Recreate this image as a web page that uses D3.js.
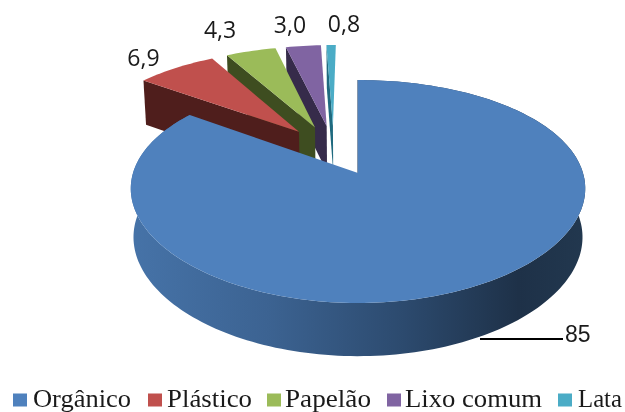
<!DOCTYPE html>
<html>
<head>
<meta charset="utf-8">
<script src="https://cdn.jsdelivr.net/npm/d3@7"></script>
<style>
html, body { margin: 0; padding: 0; background: #fff; overflow: hidden; }
svg { filter: blur(0.4px); }
</style>
</head>
<body>
<div id="chart"></div>
<script>
const categories = ["Orgânico", "Plástico", "Papelão", "Lixo comum", "Lata"];
const values = [85, 6.9, 4.3, 3.0, 0.8];
const valueLabels = ["85", "6,9", "4,3", "3,0", "0,8"];
const colors = ["#4F81BD", "#C0504D", "#9BBB59", "#8064A2", "#4BACC6"];
const wallColors = ["#24384F", "#4F1E1C", "#3E4D20", "#362B4A", "#1F6A7F"];

const width = 625, height = 412;
const cx = 358, cy = 173;       // apex of the blue slice on screen
const R = 225, Rk = 108.4;      // radius across and along the tilted plane
const persp = 0.166, perspX = 0.14;   // far side is drawn smaller
const explode = 0.248;

const svg = d3.select("#chart").append("svg")
    .attr("width", width).attr("height", height);

const grad = svg.append("defs").append("linearGradient")
    .attr("id", "wall").attr("gradientUnits", "userSpaceOnUse")
    .attr("x1", 130).attr("x2", 587).attr("y1", 0).attr("y2", 0);
[[0, "#4673A8"], [0.3, "#3C6392"], [0.6, "#2C4A6E"], [0.85, "#1E3148"], [1, "#22384F"]]
    .forEach(s => grad.append("stop").attr("offset", s[0]).attr("stop-color", s[1]));

// plane coordinates -> screen
function project(X, Z) {
    const s = 1 / (1 + persp * Z);
    return { x: cx + R * X / (1 + perspX * Z), y: cy - Rk * Z * s, s: s };
}
function wallHeight(s) { return 22 + 26 * s; }
function topPt(p) { return [p.x, p.y]; }
function bottomPt(p) { return [p.x + (cx - p.x) * 0.012, p.y + wallHeight(p.s)]; }

const slices = d3.pie().sort(null).startAngle(0).endAngle(2 * Math.PI)(values);
const lineGen = d3.line().curve(d3.curveLinear);

const blueMid = (slices[0].startAngle + slices[0].endAngle) / 2;
slices.forEach(d => {
    const mid = (d.startAngle + d.endAngle) / 2;
    // every slice moves out from a common centre, blue stays at cx,cy
    d.ox = explode * (Math.sin(mid) - Math.sin(blueMid));
    d.oz = explode * (Math.cos(mid) - Math.cos(blueMid));
    d.mid = mid;
    d.rim = (a, r = 1) => project(d.ox + r * Math.sin(a), d.oz + r * Math.cos(a));
});

function arcPoints(d, a0, a1) {
    const n = Math.max(4, Math.ceil(Math.abs(a1 - a0) * 40));
    return d3.range(n + 1).map(i => d.rim(a0 + (a1 - a0) * i / n));
}

// back slices first, blue on top
[4, 3, 2, 1].forEach(i => {
    const d = slices[i];
    const apex = project(d.ox, d.oz);
    const edge = d.rim(d.startAngle);
    svg.append("path")
        .attr("d", lineGen([topPt(apex), topPt(edge), bottomPt(edge), bottomPt(apex)]) + "Z")
        .attr("fill", wallColors[i]);
    svg.append("path")
        .attr("d", lineGen([topPt(apex)].concat(arcPoints(d, d.startAngle, d.endAngle).map(topPt))) + "Z")
        .attr("fill", colors[i]);
});

const blue = slices[0];
const bluePts = arcPoints(blue, blue.startAngle, blue.endAngle);
const blueApex = project(blue.ox, blue.oz);
svg.append("path")
    .attr("d", lineGen(bluePts.map(topPt).concat(bluePts.map(bottomPt).reverse())) + "Z")
    .attr("fill", "url(#wall)");
svg.append("path")
    .attr("d", lineGen([topPt(blueApex), topPt(blue.rim(0))]))
    .attr("stroke", "#2F4F75").attr("stroke-width", 1.2).attr("fill", "none");
svg.append("path")
    .attr("d", lineGen([topPt(blueApex)].concat(bluePts.map(topPt))) + "Z")
    .attr("fill", colors[0]);

// value labels
const labelNudge = [[0, 0], [-19, 5], [-24, -5], [-11, -5], [13, -5]];
const labelFont = "'Open Sans', 'Noto Sans', sans-serif";
[1, 2, 3, 4].forEach(i => {
    const p = slices[i].rim(slices[i].mid, 1.12);
    svg.append("text")
        .attr("x", p.x + labelNudge[i][0]).attr("y", p.y + labelNudge[i][1])
        .attr("text-anchor", "middle")
        .attr("font-family", labelFont).attr("font-size", 23)
        .attr("fill", "#1a1a1a")
        .text(valueLabels[i]);
});

// the blue label sits at the end of a leader line
svg.append("line")
    .attr("x1", 480).attr("x2", 563).attr("y1", 339).attr("y2", 339)
    .attr("stroke", "#000").attr("stroke-width", 2);
svg.append("text")
    .attr("x", 565).attr("y", 342)
    .attr("font-family", "'Liberation Sans', sans-serif").attr("font-size", 23)
    .attr("fill", "#1a1a1a")
    .text(valueLabels[0]);

// legend
const legendSwatch = [13, 148, 267, 387, 558];
const legendText = [33, 167, 285, 405, 578];
const legendWidth = [98, 85, 86, 137, 44];
categories.forEach((c, i) => {
    svg.append("rect")
        .attr("x", legendSwatch[i]).attr("y", 393.5)
        .attr("width", 14).attr("height", 13)
        .attr("fill", colors[i]);
    svg.append("text")
        .attr("x", legendText[i]).attr("y", 406.5)
        .attr("font-family", "'Liberation Serif', serif").attr("font-size", 25.5)
        .attr("textLength", legendWidth[i]).attr("lengthAdjust", "spacingAndGlyphs")
        .attr("fill", "#1a1a1a")
        .text(c);
});
</script>
</body>
</html>
